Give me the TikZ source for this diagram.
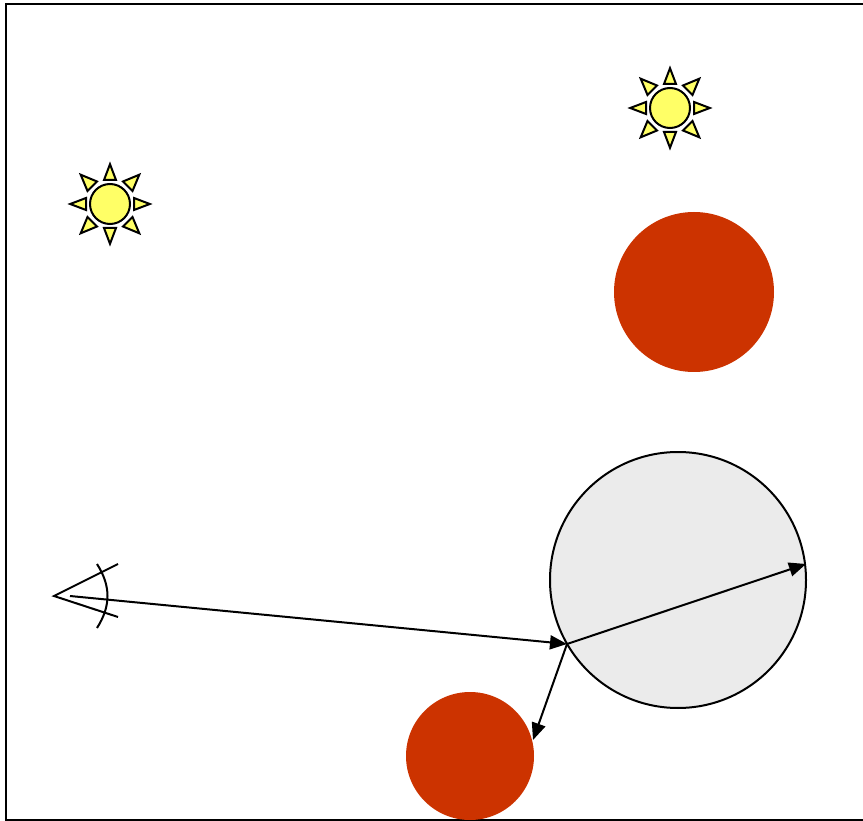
\documentclass[tikz,border=0pt]{standalone}
\usetikzlibrary{arrows.meta}
\definecolor{sunfill}{HTML}{FFFF66}
\definecolor{redball}{HTML}{CC3300}
\definecolor{greyball}{HTML}{EBEBEB}
\tikzset{
  ln/.style={line width=2pt,draw=black},
  ball/.style={circle,inner sep=0pt,outer sep=0pt,minimum size=#1},
  ray/.style={line width=2pt,draw=black,fill=sunfill,line join=miter,miter limit=10},
  rayarrow/.style={line width=2pt,draw=black,-{Triangle[length=17pt,width=14pt]},shorten >=0pt},
  pics/sun/.style={code={
    \foreach \a in {0,90,180,270}{
      \draw[ray,rotate=\a] (24,-6) -- (39.8,0) -- (24,6) -- cycle;
    }
    \foreach \a in {0,90,180,270}{
      \draw[ray,rotate=\a] (13,-22.5) -- (29.3,-29.3) -- (22.5,-13) -- cycle;
    }
    \draw[ln,fill=sunfill] (0,0) circle (20);
  }}
}
\begin{document}
\begin{tikzpicture}[x=1pt,y=-1pt]
\useasboundingbox (0,0) rectangle (863,821);
\path[fill=white] (0,0) rectangle (863,821);
\draw[ln,line cap=rect] (870,4) -- (6,4) -- (6,820) -- (870,820);
\clip (0,0) rectangle (863,821);
\pic at (110,204) {sun};
\pic at (670,108) {sun};
\node[ball=160pt,fill=redball] (redtop) at (694,292) {};
\node[ball=128pt,fill=redball] (redlow) at (470,756) {};
\node[ball=256pt,fill=greyball,draw=black,line width=2pt] (mirror) at (678,580) {};
\coordinate (apex) at (54,596);
\coordinate (upper) at (118,564);
\coordinate (lower) at (118,617);
\coordinate (arctop) at (97,564);
\coordinate (arcbot) at (97,628);
\coordinate (eye) at (70,596);
\coordinate (hit) at (567,644);
\coordinate (refl) at (806,564);
\coordinate (down) at (533,740);
\draw[ln,line join=miter] (upper) -- (apex) -- (lower);
\draw[ln] (arctop) .. controls (111,586) and (111,606) .. (arcbot);
\draw[rayarrow] (eye) -- (hit);
\draw[rayarrow] (hit) -- (refl);
\draw[rayarrow] (hit) -- (down);
\end{tikzpicture}
\end{document}
